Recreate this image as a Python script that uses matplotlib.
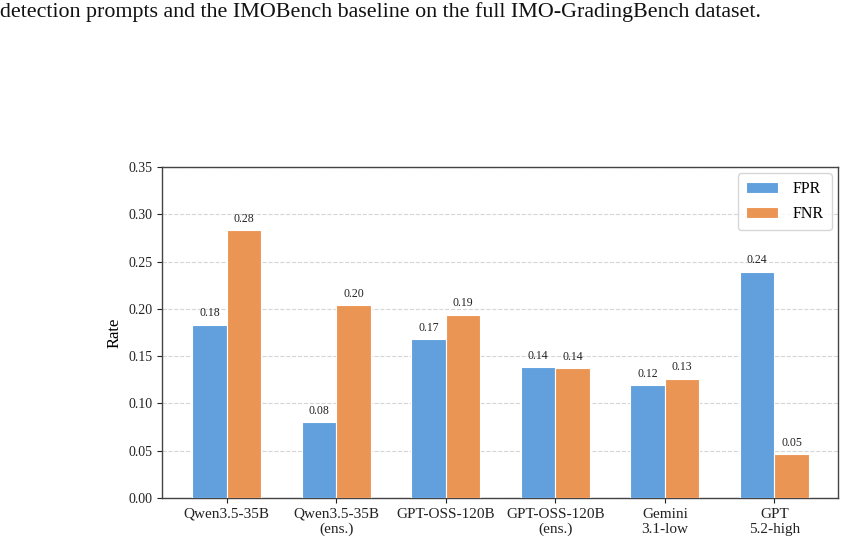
import matplotlib
matplotlib.use("Agg")
import matplotlib.pyplot as plt
import numpy as np

categories = ["Qwen3.5-35B", "Qwen3.5-35B\n(ens.)", "GPT-OSS-120B", "GPT-OSS-120B\n(ens.)",
              "Gemini\n3.1-low", "GPT\n5.2-high"]
fpr = [0.183, 0.080, 0.168, 0.138, 0.119, 0.239]
fnr = [0.283, 0.204, 0.194, 0.137, 0.126, 0.046]
yticks = [0.00, 0.05, 0.10, 0.15, 0.20, 0.25, 0.30, 0.35]

plt.rcParams['font.family'] = ['Liberation Serif', 'DejaVu Serif']

fig = plt.figure(figsize=(8.47, 5.48), dpi=100)
ax = fig.add_axes([162/847, 1 - 498/548, (838-162)/847, (498-167)/548])

x = np.arange(len(categories))
w = 0.315
c_fpr = "#629FDD"
c_fnr = "#EB9554"
b1 = ax.bar(x - w/2, fpr, w, color=c_fpr, edgecolor="white", linewidth=0.8, label="FPR", zorder=3)
b2 = ax.bar(x + w/2, fnr, w, color=c_fnr, edgecolor="white", linewidth=0.8, label="FNR", zorder=3)

for bars, vals in ((b1, fpr), (b2, fnr)):
    for b, v in zip(bars, vals):
        ax.annotate(f"{v:.2f}", (b.get_x() + b.get_width()/2, v), xytext=(0, 4),
                    textcoords="offset points", ha="center", va="bottom", fontsize=8.5, color="#222222")

ax.set_ylim(0, 0.35)
ax.set_xlim(-0.59, 5.58)
ax.set_yticks(yticks)
ax.set_yticklabels([f"{t:.2f}" for t in yticks], fontsize=10)
ax.set_xticks(x)
ax.set_xticklabels(categories, fontsize=11)
ax.set_ylabel("Rate", fontsize=12)
ax.yaxis.grid(True, linestyle="--", color="#d5d5d5", linewidth=0.8, zorder=0)
ax.set_axisbelow(True)
for s in ax.spines.values():
    s.set_color("#444444")
    s.set_linewidth(1.0)
ax.tick_params(colors="#222222", length=3.5, width=0.8)

leg = ax.legend(loc="upper right", fontsize=11.5, frameon=True, fancybox=True,
                handlelength=2.0, handletextpad=0.9, borderpad=0.5, labelspacing=0.55,
                borderaxespad=0.4)
leg.get_frame().set_edgecolor("#cccccc")

fig.text(0.0, 1 - 12/548, "detection prompts and the IMOBench baseline on the full IMO-GradingBench dataset.",
         fontsize=15.8, va="center", ha="left", color="#111111")

fig.savefig("out.png", dpi=100)
